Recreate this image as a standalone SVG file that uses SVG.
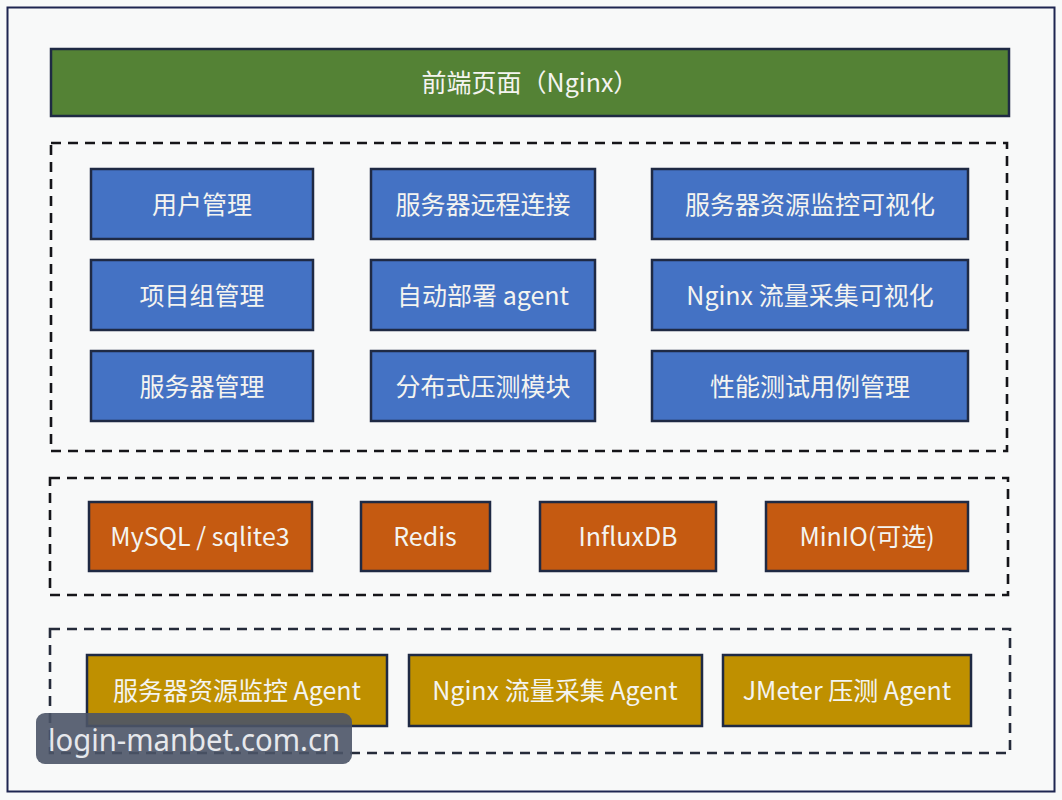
<svg xmlns="http://www.w3.org/2000/svg" width="1062" height="800" viewBox="0 0 1062 800">
<style>
.box{stroke:#1f2a44;stroke-width:2.5}
.green{fill:#548235}
.blue{fill:#4472C4}
.orange{fill:#C55A11}
.gold{fill:#BF9000}
.group{fill:none;stroke:#151519;stroke-width:2.6;stroke-dasharray:10 7}
.lbl{font-family:"Noto Sans CJK SC","Noto Sans",sans-serif;font-size:25px;fill:#f4f4f0;text-anchor:middle;dominant-baseline:central}
</style>
<rect x="0" y="0" width="1062" height="800" fill="#f8f9f9"/>
<rect x="7.5" y="7.5" width="1047" height="784" fill="#f8f9f9" stroke="#1e2550" stroke-width="2"/>

<g id="groups">
<rect class="group" x="51" y="143" width="956" height="308"/>
<rect class="group" x="50" y="478" width="958" height="117"/>
<rect class="group" x="50" y="629" width="960" height="124" style="stroke:#252b3a"/>
</g>

<g id="connectors"></g>

<g id="frontend"><rect class="box green" x="51" y="49" width="958" height="67"/><text class="lbl" x="530" y="81">前端页面（Nginx）</text></g>

<g id="n-user"><rect class="box blue" x="91" y="169" width="222" height="70"/><text class="lbl" x="202" y="202.5">用户管理</text></g>
<g id="n-remote"><rect class="box blue" x="371" y="169" width="224" height="70"/><text class="lbl" x="483" y="202.5">服务器远程连接</text></g>
<g id="n-monitor-vis"><rect class="box blue" x="652" y="169" width="316" height="70"/><text class="lbl" x="810" y="202.5">服务器资源监控可视化</text></g>

<g id="n-project"><rect class="box blue" x="91" y="260" width="222" height="70"/><text class="lbl" x="202" y="293.5">项目组管理</text></g>
<g id="n-deploy"><rect class="box blue" x="371" y="260" width="224" height="70"/><text class="lbl" x="483" y="293.5">自动部署 agent</text></g>
<g id="n-nginx-vis"><rect class="box blue" x="652" y="260" width="316" height="70"/><text class="lbl" x="810" y="293.5">Nginx 流量采集可视化</text></g>

<g id="n-server"><rect class="box blue" x="91" y="351" width="222" height="70"/><text class="lbl" x="202" y="384.5">服务器管理</text></g>
<g id="n-dist"><rect class="box blue" x="371" y="351" width="224" height="70"/><text class="lbl" x="483" y="384.5">分布式压测模块</text></g>
<g id="n-case"><rect class="box blue" x="652" y="351" width="316" height="70"/><text class="lbl" x="810" y="384.5">性能测试用例管理</text></g>

<g id="n-mysql"><rect class="box orange" x="89" y="502" width="223" height="69"/><text class="lbl" x="200" y="535">MySQL / sqlite3</text></g>
<g id="n-redis"><rect class="box orange" x="361" y="502" width="129" height="69"/><text class="lbl" x="425" y="535">Redis</text></g>
<g id="n-influx"><rect class="box orange" x="540" y="502" width="176" height="69"/><text class="lbl" x="628" y="535">InfluxDB</text></g>
<g id="n-minio"><rect class="box orange" x="766" y="502" width="202" height="69"/><text class="lbl" x="867" y="535">MinIO(可选)</text></g>

<g id="n-agent-monitor"><rect class="box gold" x="87" y="655" width="300" height="71"/><text class="lbl" x="237" y="689">服务器资源监控 Agent</text></g>
<g id="n-agent-nginx"><rect class="box gold" x="409" y="655" width="293" height="71"/><text class="lbl" x="555" y="689">Nginx 流量采集 Agent</text></g>
<g id="n-agent-jmeter"><rect class="box gold" x="723" y="655" width="248" height="71"/><text class="lbl" x="847" y="689">JMeter 压测 Agent</text></g>

<g id="watermark">
<rect x="36" y="713" width="316" height="51" rx="9" fill="#4b5467" fill-opacity="0.9"/>
<text x="48" y="751" font-family="'Noto Sans','Open Sans',sans-serif" font-size="30" fill="#e6e8ec" textLength="292" lengthAdjust="spacingAndGlyphs">login-manbet.com.cn</text>
</g>
</svg>
